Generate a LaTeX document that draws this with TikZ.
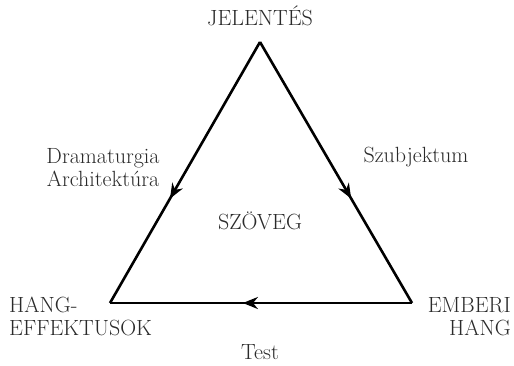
\documentclass[tikz,border=0pt]{standalone}
\usepackage{fontspec}
\usetikzlibrary{arrows.meta,decorations.markings}
\definecolor{txt}{HTML}{2A2A2A}
\tikzset{
  lbl/.style={text=txt,font=\fontsize{22}{23}\selectfont,inner sep=0pt},
  edge/.style={line width=2.6pt,line join=miter,
    postaction={decorate,decoration={markings,
      mark=at position #1 with {\arrow{Stealth[length=15pt,width=12pt]}}}}},
}
\begin{document}
\begin{tikzpicture}[x=1pt,y=-1pt]
\useasboundingbox (0,0) rectangle (514,365);
\coordinate (T) at (260,42);
\coordinate (L) at (110,303);
\coordinate (R) at (412,303);
\draw[edge=0.6] (T) -- (L);
\draw[edge=0.6] (T) -- (R);
\draw[edge=0.56] (R) -- (L);
\node[lbl,anchor=base] (jel) at (260,25) {JELENTÉS};
\node[lbl,anchor=base] (szo) at (260,229) {SZÖVEG};
\node[lbl,anchor=base] (szu) at (416,162) {Szubjektum};
\node[lbl,anchor=base] (dra) at (103,163) {Dramaturgia};
\node[lbl,anchor=base] (arc) at (103,186) {Architektúra};
\node[lbl,anchor=base west,align=left] (hang) at (9,335) {HANG-\\EFFEKTUSOK};
\node[lbl,anchor=base east,align=right] (emb) at (511,335) {EMBERI\\HANG};
\node[lbl,anchor=base] (test) at (260,359) {Test};
\end{tikzpicture}
\end{document}
